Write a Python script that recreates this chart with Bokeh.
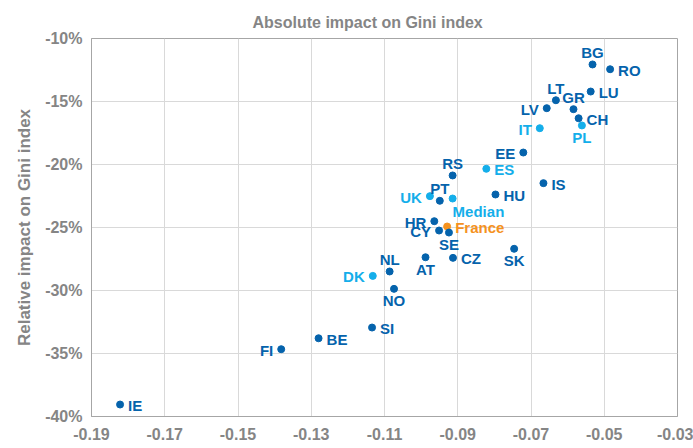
from bokeh.plotting import figure
from bokeh.models import ColumnDataSource, FixedTicker, NumeralTickFormatter, PrintfTickFormatter, Range1d
from bokeh.core.properties import value
from bokeh.embed import file_html
from bokeh.resources import INLINE

# ---- data ----
countries = ["BG", "RO", "LU", "LT", "LV", "GR", "CH", "PL", "IT", "EE", "ES", "RS", "IS", "UK",
             "HU", "PT", "Median", "HR", "France", "CY", "SE", "CZ", "AT", "SK", "NL", "DK",
             "NO", "SI", "BE", "FI", "IE"]
abs_impact = [-0.0532, -0.0484, -0.0537, -0.0632, -0.0657, -0.0584, -0.0570, -0.0561, -0.0676,
              -0.0721, -0.0822, -0.0914, -0.0666, -0.0976, -0.0797, -0.0949, -0.0914, -0.0964,
              -0.0929, -0.0951, -0.0924, -0.0913, -0.0988, -0.0746, -0.1086, -0.1132, -0.1074,
              -0.1134, -0.1280, -0.1382, -0.1822]
rel_impact = [-12.06, -12.44, -14.21, -14.90, -15.53, -15.61, -16.33, -16.90, -17.12, -19.05,
              -20.34, -20.87, -21.48, -22.51, -22.38, -22.88, -22.70, -24.50, -24.92, -25.24,
              -25.40, -27.41, -27.36, -26.69, -28.49, -28.84, -29.87, -32.94, -33.79, -34.66,
              -39.05]
group = ["base", "base", "base", "base", "base", "base", "base", "light", "light", "base",
         "light", "base", "base", "light", "base", "base", "light", "base", "france", "base",
         "base", "base", "base", "base", "base", "light", "base", "base", "base", "base", "base"]
x_ticks = [-0.19, -0.17, -0.15, -0.13, -0.11, -0.09, -0.07, -0.05, -0.03]
y_ticks = [-40, -35, -30, -25, -20, -15, -10]

# ---- styles ----
colors = {"base": "#0563AC", "light": "#14AEEA", "france": "#F5921E"}
placement = {
    "BG": "a", "RO": "r", "LU": "r", "LT": "a", "LV": "l", "GR": "a", "CH": "r", "PL": "b",
    "IT": "l", "EE": "l", "ES": "r", "RS": "a", "IS": "r", "UK": "l", "HU": "r", "PT": "a",
    "Median": "br", "HR": "l", "France": "r", "CY": "l", "SE": "b", "CZ": "r", "AT": "b",
    "SK": "b", "NL": "a", "DK": "l", "NO": "b", "SI": "r", "BE": "r", "FI": "l", "IE": "r",
}
place_style = {
    "r": dict(text_align="left", text_baseline="middle", x_offset=8, y_offset=1),
    "l": dict(text_align="right", text_baseline="middle", x_offset=-8, y_offset=1),
    "a": dict(text_align="center", text_baseline="middle", x_offset=0, y_offset=-12),
    "b": dict(text_align="center", text_baseline="middle", x_offset=0, y_offset=12),
    "br": dict(text_align="left", text_baseline="middle", x_offset=0, y_offset=13),
}
GREY = "#858585"
FONT = "Liberation Sans"

p = figure(width=693, height=448, output_backend="svg", toolbar_location=None,
           x_range=Range1d(-0.19, -0.03), y_range=Range1d(-40, -10),
           min_border_left=91, min_border_right=16, min_border_top=38, min_border_bottom=32)

p.title.text = "Absolute impact on Gini index"
p.title.align = "left"
p.title.offset = 161
p.title.text_font = FONT
p.title.text_font_size = "16px"
p.title.text_font_style = "bold"
p.title.text_color = GREY
p.title.standoff = 15

p.xaxis.ticker = FixedTicker(ticks=x_ticks)
p.yaxis.ticker = FixedTicker(ticks=y_ticks)
p.xaxis.formatter = NumeralTickFormatter(format="0.00")
p.yaxis.formatter = PrintfTickFormatter(format="%d%%")
p.yaxis.axis_label = "Relative impact on Gini index"
for ax in (p.xaxis, p.yaxis):
    ax.major_label_text_font = FONT
    ax.major_label_text_font_size = "16px"
    ax.major_label_text_font_style = "bold"
    ax.major_label_text_color = GREY
    ax.axis_label_text_font = FONT
    ax.axis_label_text_font_size = "17px"
    ax.axis_label_text_font_style = "bold"
    ax.axis_label_text_color = GREY
    ax.major_tick_line_color = None
    ax.minor_tick_line_color = None
    ax.axis_line_color = "#A6A6A6"
    ax.major_tick_out = 0
    ax.major_tick_in = 0
p.xaxis.major_label_standoff = 11
p.yaxis.major_label_standoff = 9
p.yaxis.axis_label_standoff = 8

p.xgrid.ticker = FixedTicker(ticks=x_ticks)
p.ygrid.ticker = FixedTicker(ticks=y_ticks)
p.grid.grid_line_color = "#D9D9D9"
p.grid.grid_line_width = 1
p.outline_line_color = "#A6A6A6"
p.outline_line_alpha = 1

src = ColumnDataSource(dict(x=abs_impact, y=rel_impact, name=countries,
                            color=[colors[g] for g in group]))
p.scatter("x", "y", source=src, size=7, fill_color="color", line_color="color")

for key, style in place_style.items():
    idx = [i for i, c in enumerate(countries) if placement[c] == key]
    s = ColumnDataSource(dict(x=[abs_impact[i] for i in idx], y=[rel_impact[i] for i in idx],
                              name=[countries[i] for i in idx],
                              color=[colors[group[i]] for i in idx]))
    p.text("x", "y", text="name", source=s, text_color="color", text_font=value(FONT),
           text_font_size="15px", text_font_style="bold", **style)

open("out.html", "w").write(file_html(p, INLINE))
